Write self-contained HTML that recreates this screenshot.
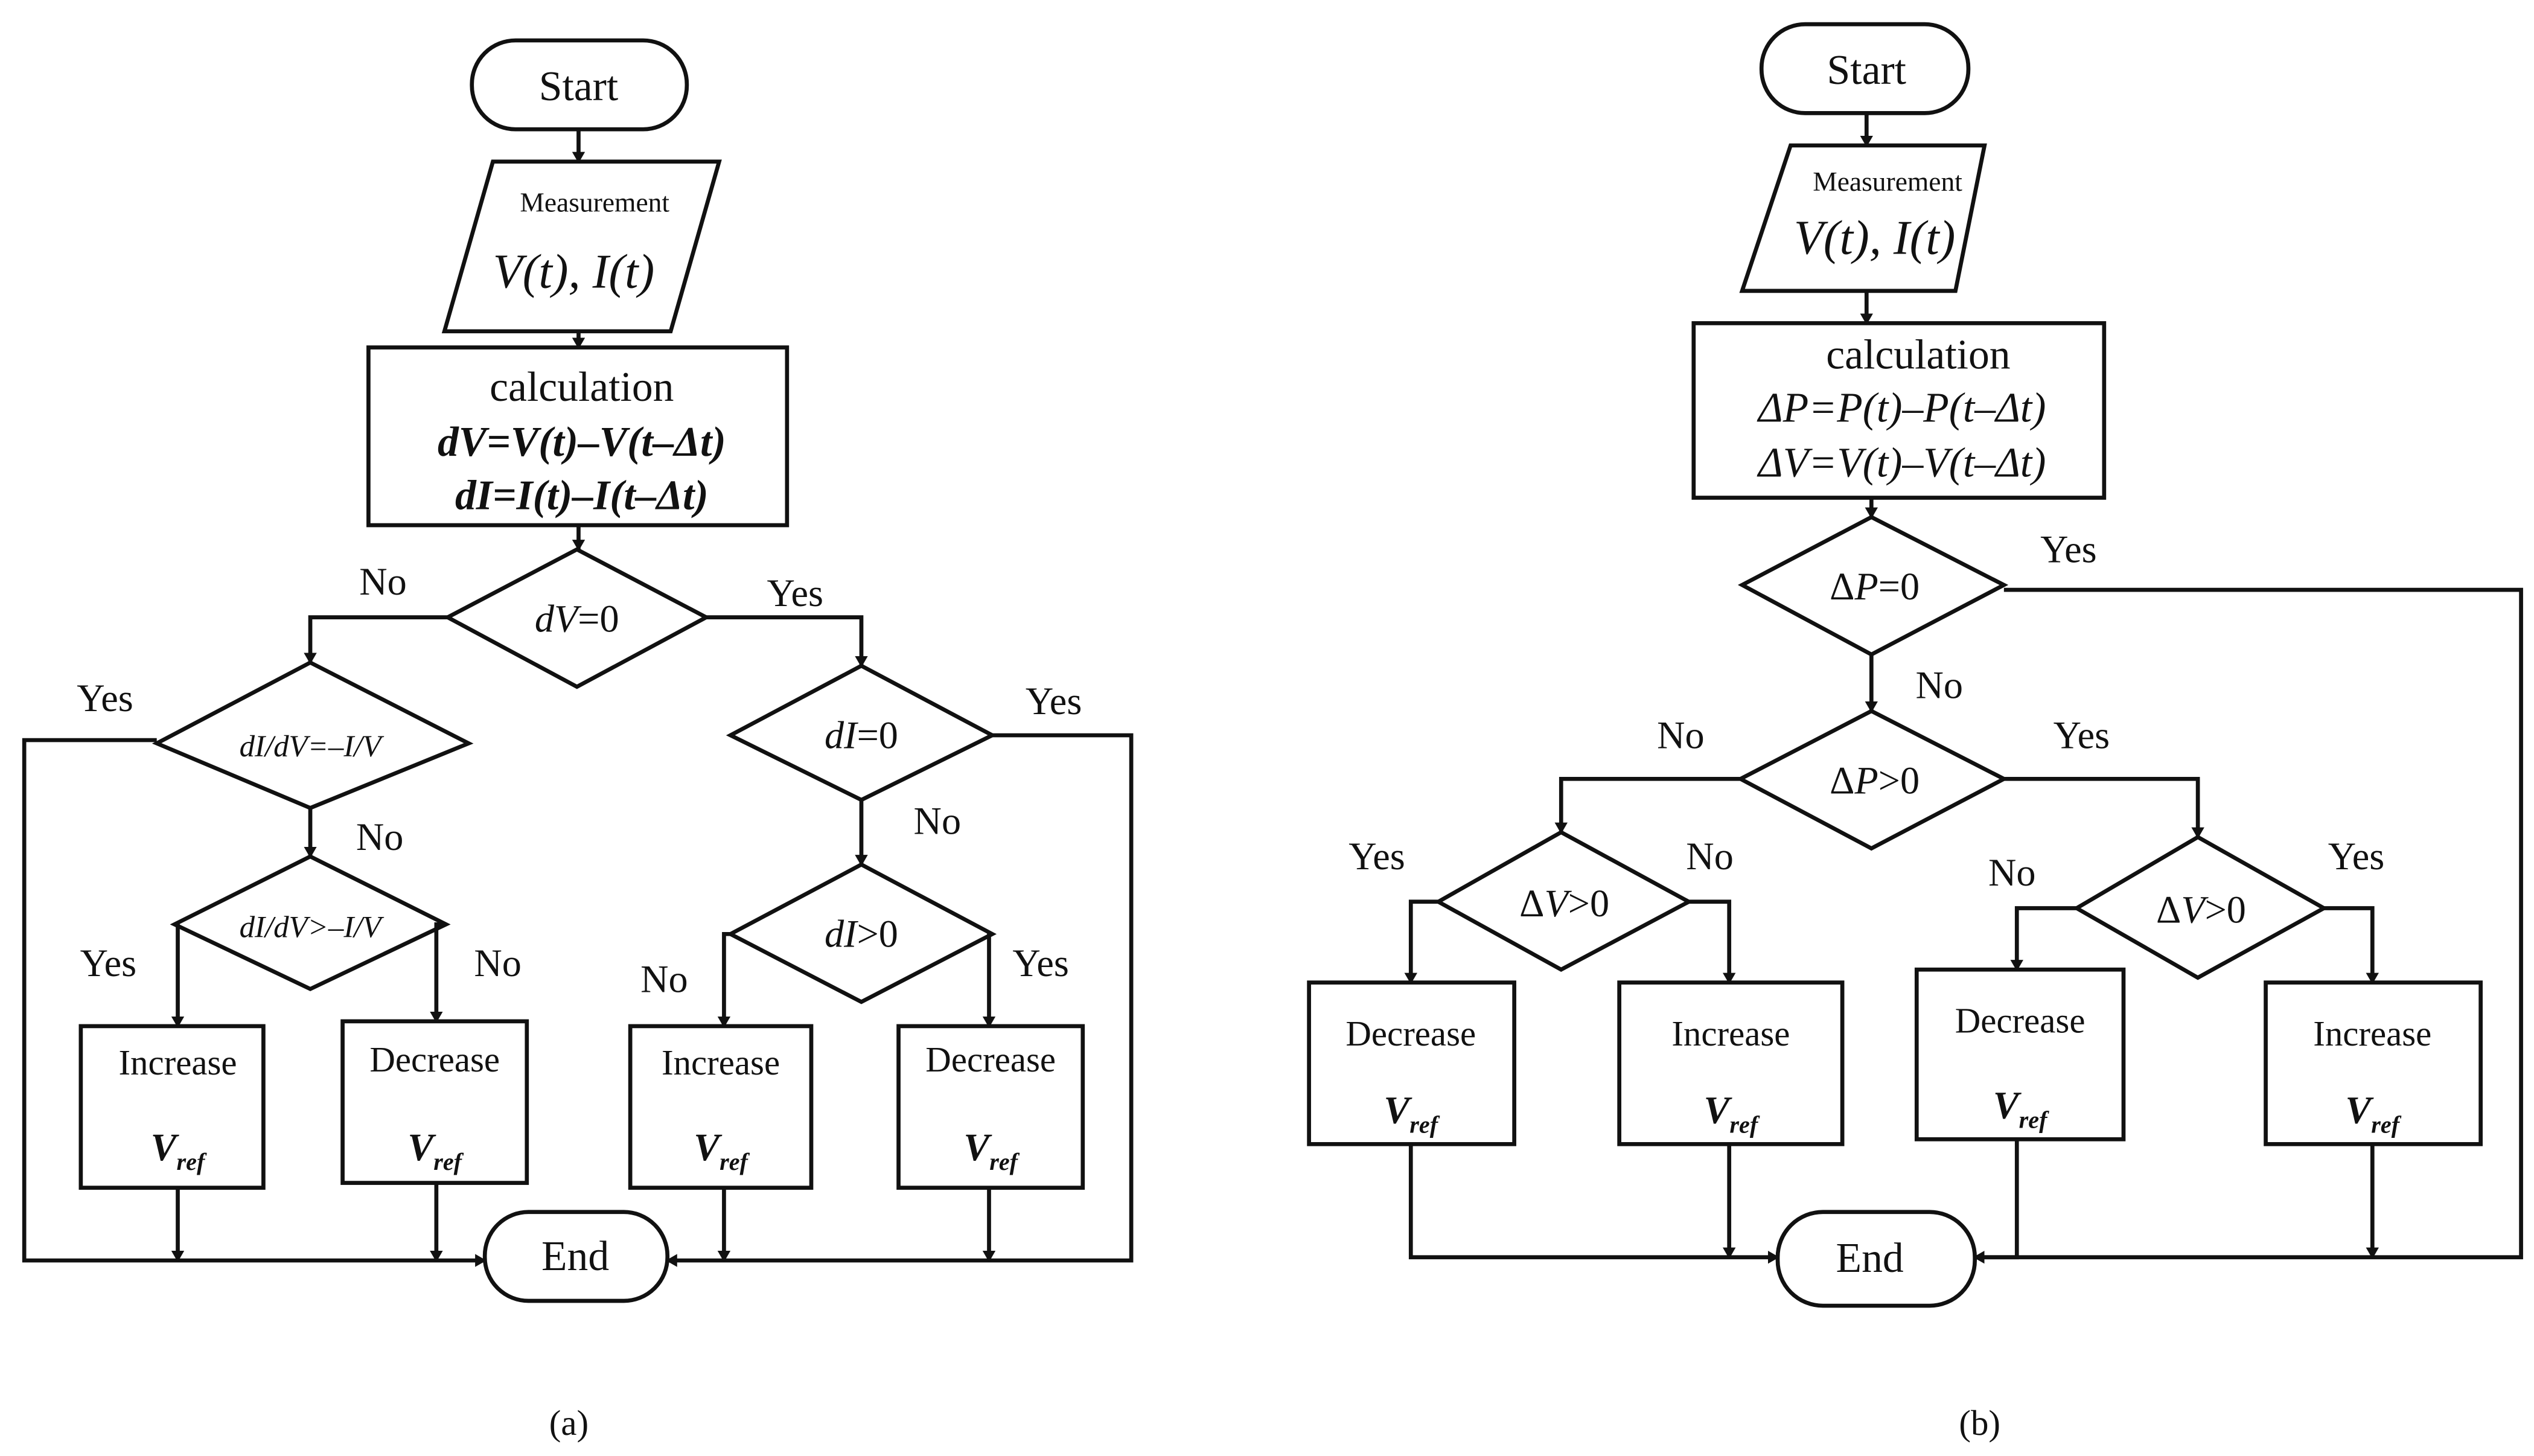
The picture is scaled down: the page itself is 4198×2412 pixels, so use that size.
<!DOCTYPE html>
<html><head><meta charset="utf-8"><style>
html,body{margin:0;padding:0;background:#fff;}
svg{display:block;}
text{font-family:"Liberation Serif",serif;fill:#111;}
</style></head><body>
<svg width="4198" height="2412" viewBox="0 0 1568 901" preserveAspectRatio="none" xmlns="http://www.w3.org/2000/svg">
<defs><marker id="a" markerWidth="8" markerHeight="8" refX="6" refY="4" orient="auto" markerUnits="userSpaceOnUse"><path d="M0,0 L7,4 L0,8 Z" fill="#111"/></marker></defs>
<g fill="none" stroke="#111" stroke-width="2.5">
<!-- (a) -->
<rect x="292" y="25" width="133" height="55" rx="27"/>
<polygon points="305,100 445,100 415,205 275,205"/>
<rect x="228" y="215" width="259" height="110"/>
<polygon points="357,340 437,382 357,425 277,382"/>
<polygon points="192,410 290,460 192,500 97,460"/>
<polygon points="192,530 276,572 192,612 108,572"/>
<polygon points="533,412 614,455 533,495 452,455"/>
<polygon points="533,535 614,578 533,620 452,578"/>
<rect x="50" y="635" width="113" height="100"/>
<rect x="212" y="632" width="114" height="100"/>
<rect x="390" y="635" width="112" height="100"/>
<rect x="556" y="635" width="114" height="100"/>
<rect x="300" y="750" width="113" height="55" rx="27"/>
<path d="M358,80V100" marker-end="url(#a)"/>
<path d="M358,205V215" marker-end="url(#a)"/>
<path d="M358,325V340" marker-end="url(#a)"/>
<path d="M277,382H192V410" marker-end="url(#a)"/>
<path d="M437,382H533V412" marker-end="url(#a)"/>
<path d="M97,458H15V780H300" marker-end="url(#a)"/>
<path d="M192,500V530" marker-end="url(#a)"/>
<path d="M108,572H110V635" marker-end="url(#a)"/>
<path d="M276,572H270V632" marker-end="url(#a)"/>
<path d="M533,495V535" marker-end="url(#a)"/>
<path d="M452,578H448V635" marker-end="url(#a)"/>
<path d="M614,578H612V635" marker-end="url(#a)"/>
<path d="M614,455H700V780H413" marker-end="url(#a)"/>
<path d="M110,735V780" marker-end="url(#a)"/>
<path d="M270,732V780" marker-end="url(#a)"/>
<path d="M448,735V780" marker-end="url(#a)"/>
<path d="M612,735V780" marker-end="url(#a)"/>
<!-- (b) -->
<rect x="1090" y="15" width="128" height="55" rx="27"/>
<polygon points="1108,90 1228,90 1210,180 1078,180"/>
<rect x="1048" y="200" width="254" height="108"/>
<polygon points="1158,320 1240,362 1158,405 1078,362"/>
<polygon points="1158,440 1240,482 1158,525 1077,482"/>
<polygon points="966,515 1045,558 966,600 890,558"/>
<polygon points="1360,518 1438,562 1360,605 1285,562"/>
<rect x="810" y="608" width="127" height="100"/>
<rect x="1002" y="608" width="138" height="100"/>
<rect x="1186" y="600" width="128" height="105"/>
<rect x="1402" y="608" width="133" height="100"/>
<rect x="1100" y="750" width="122" height="58" rx="28"/>
<path d="M1155,70V90" marker-end="url(#a)"/>
<path d="M1155,180V200" marker-end="url(#a)"/>
<path d="M1158,308V320" marker-end="url(#a)"/>
<path d="M1240,365H1560V778H1222" marker-end="url(#a)"/>
<path d="M1158,405V440" marker-end="url(#a)"/>
<path d="M1077,482H966V515" marker-end="url(#a)"/>
<path d="M1240,482H1360V518" marker-end="url(#a)"/>
<path d="M890,558H873V608" marker-end="url(#a)"/>
<path d="M1045,558H1070V608" marker-end="url(#a)"/>
<path d="M1285,562H1248V600" marker-end="url(#a)"/>
<path d="M1438,562H1468V608" marker-end="url(#a)"/>
<path d="M873,708V778H1100" marker-end="url(#a)"/>
<path d="M1070,708V778" marker-end="url(#a)"/>
<path d="M1248,705V778H1222" marker-end="url(#a)"/>
<path d="M1468,708V778" marker-end="url(#a)"/>
</g>
<g font-size="26" text-anchor="middle">
<!-- (a) text -->
<text x="358" y="62">Start</text>
<text x="368" y="131" font-size="17">Measurement</text>
<text x="355" y="178" font-size="30" font-style="italic">V(t), I(t)</text>
<text x="360" y="248">calculation</text>
<text x="360" y="282" font-style="italic" font-weight="bold">dV=V(t)–V(t–Δt)</text>
<text x="360" y="315" font-style="italic" font-weight="bold">dI=I(t)–I(t–Δt)</text>
<text x="357" y="391" font-size="24"><tspan font-style="italic">dV</tspan>=0</text>
<text x="192" y="468" font-size="19" font-style="italic">dI/dV=–I/V</text>
<text x="192" y="580" font-size="19" font-style="italic">dI/dV&gt;–I/V</text>
<text x="533" y="463" font-size="24"><tspan font-style="italic">dI</tspan>=0</text>
<text x="533" y="586" font-size="24"><tspan font-style="italic">dI</tspan>&gt;0</text>
<text x="237" y="368" font-size="24">No</text>
<text x="492" y="375" font-size="24">Yes</text>
<text x="65" y="440" font-size="24">Yes</text>
<text x="235" y="526" font-size="24">No</text>
<text x="67" y="604" font-size="24">Yes</text>
<text x="308" y="604" font-size="24">No</text>
<text x="652" y="442" font-size="24">Yes</text>
<text x="580" y="516" font-size="24">No</text>
<text x="411" y="614" font-size="24">No</text>
<text x="644" y="604" font-size="24">Yes</text>
<text x="110" y="665" font-size="22">Increase</text>
<text x="110" y="718" font-size="24" font-style="italic" font-weight="bold">V<tspan font-size="15" dy="6">ref</tspan></text>
<text x="269" y="663" font-size="22">Decrease</text>
<text x="269" y="718" font-size="24" font-style="italic" font-weight="bold">V<tspan font-size="15" dy="6">ref</tspan></text>
<text x="446" y="665" font-size="22">Increase</text>
<text x="446" y="718" font-size="24" font-style="italic" font-weight="bold">V<tspan font-size="15" dy="6">ref</tspan></text>
<text x="613" y="663" font-size="22">Decrease</text>
<text x="613" y="718" font-size="24" font-style="italic" font-weight="bold">V<tspan font-size="15" dy="6">ref</tspan></text>
<text x="356" y="786">End</text>
<text x="352" y="888" font-size="22">(a)</text>
<!-- (b) text -->
<text x="1155" y="52">Start</text>
<text x="1168" y="118" font-size="17">Measurement</text>
<text x="1160" y="157" font-size="30" font-style="italic">V(t), I(t)</text>
<text x="1187" y="228">calculation</text>
<text x="1177" y="261" font-style="italic">ΔP=P(t)–P(t–Δt)</text>
<text x="1177" y="295" font-style="italic">ΔV=V(t)–V(t–Δt)</text>
<text x="1160" y="371" font-size="24">Δ<tspan font-style="italic">P</tspan>=0</text>
<text x="1160" y="491" font-size="24">Δ<tspan font-style="italic">P</tspan>&gt;0</text>
<text x="968" y="567" font-size="24">Δ<tspan font-style="italic">V</tspan>&gt;0</text>
<text x="1362" y="571" font-size="24">Δ<tspan font-style="italic">V</tspan>&gt;0</text>
<text x="1280" y="348" font-size="24">Yes</text>
<text x="1200" y="432" font-size="24">No</text>
<text x="1040" y="463" font-size="24">No</text>
<text x="1288" y="463" font-size="24">Yes</text>
<text x="852" y="538" font-size="24">Yes</text>
<text x="1058" y="538" font-size="24">No</text>
<text x="1245" y="548" font-size="24">No</text>
<text x="1458" y="538" font-size="24">Yes</text>
<text x="873" y="647" font-size="22">Decrease</text>
<text x="873" y="695" font-size="24" font-style="italic" font-weight="bold">V<tspan font-size="15" dy="6">ref</tspan></text>
<text x="1071" y="647" font-size="22">Increase</text>
<text x="1071" y="695" font-size="24" font-style="italic" font-weight="bold">V<tspan font-size="15" dy="6">ref</tspan></text>
<text x="1250" y="639" font-size="22">Decrease</text>
<text x="1250" y="692" font-size="24" font-style="italic" font-weight="bold">V<tspan font-size="15" dy="6">ref</tspan></text>
<text x="1468" y="647" font-size="22">Increase</text>
<text x="1468" y="695" font-size="24" font-style="italic" font-weight="bold">V<tspan font-size="15" dy="6">ref</tspan></text>
<text x="1157" y="787">End</text>
<text x="1225" y="888" font-size="22">(b)</text>
</g>
</svg>
</body></html>
